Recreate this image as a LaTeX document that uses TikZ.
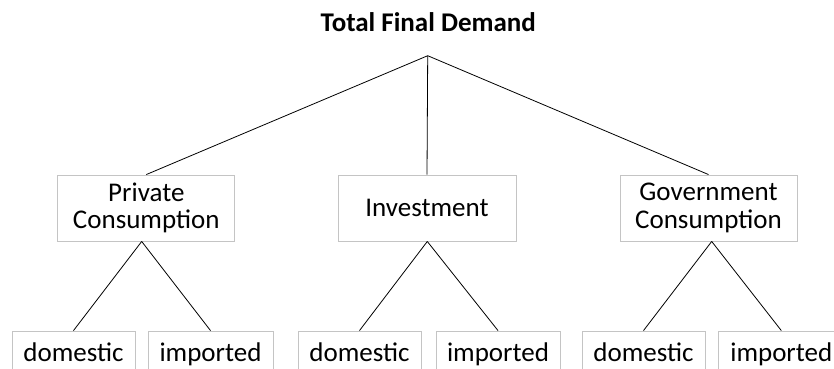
\documentclass[tikz,border=0pt]{standalone}
\usepackage{fontspec}
\setmainfont{Carlito}
\usetikzlibrary{calc}
\definecolor{boxgray}{RGB}{196,196,196}
\tikzset{
  treebox/.style={draw=boxgray, line width=0.9pt, fill=white, inner sep=0pt, align=center,
    font=\fontsize{27}{27.4}\selectfont},
  link/.style={line width=0.8pt, black},
}
\begin{document}
\begin{tikzpicture}[x=1pt,y=1pt]
\useasboundingbox (0,0) rectangle (834,-368);
\clip (0,0) rectangle (834,-368);
% title
\node[font=\fontsize{27}{27.4}\selectfont\bfseries, anchor=base, inner sep=0pt] (title) at (428.3,-31) {Total Final Demand};
\coordinate (apex) at (427.7,-55.7);
% middle level
\node[treebox, minimum width=177, minimum height=66] (priv) at (146.3,-208) {Private\\Consumption};
\node[treebox, minimum width=178, minimum height=66] (inv) at (427,-208) {Investment};
\node[treebox, minimum width=177, minimum height=66] (gov) at (708.5,-208) {Government\\Consumption};
% bottom level
\node[treebox, minimum width=123, minimum height=44, text depth=0pt] (d1) at (73.5,-353) {};
\node[treebox, minimum width=125, minimum height=44] (i1) at (210.5,-353) {};
\node[treebox, minimum width=123, minimum height=44] (d2) at (359.5,-353) {};
\node[treebox, minimum width=124, minimum height=44] (i2) at (498,-353) {};
\node[treebox, minimum width=123, minimum height=44] (d3) at (643.5,-353) {};
\node[treebox, minimum width=125, minimum height=44] (i3) at (781.3,-353) {};
\foreach \n in {d1,d2,d3}{
  \node[font=\fontsize{27}{27.4}\selectfont, anchor=base, inner sep=0pt] at ($(\n.north)+(0,-30.7)$) {domestic};
}
\foreach \n in {i1,i2,i3}{
  \node[font=\fontsize{27}{27.4}\selectfont, anchor=base, inner sep=0pt] at ($(\n.north)+(0,-30.7)$) {imported};
}
% connectors
\draw[link] (apex) -- (priv.north);
\draw[link] (apex) -- (inv.north);
\draw[link] (apex) -- (gov.north);
\coordinate (ps) at ($(priv.south)+(-4.6,0)$);
\coordinate (is) at ($(inv.south)+(0.3,0)$);
\coordinate (gs) at ($(gov.south)+(3.2,0)$);
\draw[link] (ps) -- (d1.north);
\draw[link] (ps) -- (i1.north);
\draw[link] (is) -- (d2.north);
\draw[link] (is) -- (i2.north);
\draw[link] (gs) -- (d3.north);
\draw[link] (gs) -- (i3.north);
\end{tikzpicture}
\end{document}
